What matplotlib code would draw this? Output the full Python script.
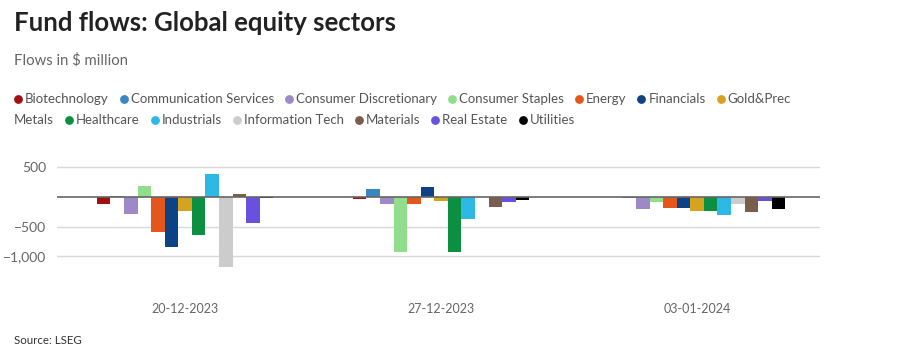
import matplotlib
matplotlib.use("Agg")
import matplotlib.pyplot as plt
from matplotlib.lines import Line2D
import numpy as np

plt.rcParams['font.family'] = ['Lato', 'DejaVu Sans']

dates = ["20-12-2023", "27-12-2023", "03-01-2024"]
sectors = ["Biotechnology", "Communication Services", "Consumer Discretionary",
           "Consumer Staples", "Energy", "Financials", "Gold&Prec Metals",
           "Healthcare", "Industrials", "Information Tech", "Materials",
           "Real Estate", "Utilities"]
colors = ["#a10f0f", "#3a86c0", "#9d89c7", "#90dd8c", "#e4571a", "#0d4385",
          "#d6a320", "#0b8f40", "#2db8e6", "#cccccc", "#7a5e4c", "#6a50de",
          "#000000"]

# flows in $ million, one list per sector (values for the three dates)
biotech = [-120, -28, 0]
comm_services = [10, 128, -15]
cons_disc = [-285, -112, -207]
cons_staples = [185, -930, -90]
energy = [-593, -117, -185]
financials = [-840, 162, -190]
gold_prec = [-235, -73, -235]
healthcare = [-633, -924, -241]
industrials = [386, -370, -297]
info_tech = [-1176, -5, -112]
materials = [50, -174, -246]
real_estate = [-442, -78, -67]
utilities = [-15, -56, -196]

series = [biotech, comm_services, cons_disc, cons_staples, energy, financials,
          gold_prec, healthcare, industrials, info_tech, materials, real_estate,
          utilities]

W, H = 901, 361
fig = plt.figure(figsize=(W / 100, H / 100), dpi=100)
ax = fig.add_axes([57 / W, 1 - 286 / H, (820 - 57) / W, (286 - 161.4) / H])

x = np.arange(len(dates))
bw = 0.053
n = len(series)
for i, (vals, c) in enumerate(zip(series, colors)):
    ax.bar(x + (i - (n - 1) / 2) * bw, vals, width=bw, color=c, zorder=3)

ax.set_xlim(-0.5, 2.48)
ax.set_ylim(-1500, 600)
ax.set_yticks([500, -500, -1000])
ax.set_yticklabels(["500", "\u2212500", "\u22121,000"])
ax.grid(axis='y', color='#d9d9d9', linewidth=1, zorder=0)
ax.axhline(0, color='#666666', linewidth=1.2, zorder=4)
ax.set_xticks(x)
ax.set_xticklabels(dates, fontsize=9)
for s in ax.spines.values():
    s.set_visible(False)
ax.tick_params(axis='both', length=0, labelcolor='#666666')
ax.tick_params(axis='y', labelsize=10, pad=8)
ax.tick_params(axis='x', pad=12)

fig.text(14 / W, 1 - 23 / H, "Fund flows: Global equity sectors", fontsize=18.5,
         fontweight='bold', color='#222222', va='center', ha='left')
fig.text(14 / W, 1 - 60 / H, "Flows in $ million", fontsize=10.7,
         color='#666666', va='center', ha='left')
fig.text(14 / W, 1 - 341 / H, "Source: LSEG", fontsize=8.3,
         color='#333333', va='center', ha='left')

# legend laid out as wrapping text with dot markers
fig.canvas.draw()
renderer = fig.canvas.get_renderer()
xpos, line_y = 11.0, 99.0
max_x = 800
for label, c in zip(sectors, colors):
    words = label.split(" ") if label == "Gold&Prec Metals" else [label]
    first = True
    for w in words:
        t = fig.text(0, 0, w, fontsize=9.5, color='#555555', va='center', ha='left')
        wpx = t.get_window_extent(renderer).width
        need = wpx + (11 if first else 0)
        if xpos + need > max_x:
            xpos = 11.0 if first else 14.0
            line_y += 21
        if first:
            fig.add_artist(Line2D([(xpos + 7) / W], [1 - line_y / H],
                                  transform=fig.transFigure, marker='o',
                                  markersize=5.3, color=c, linestyle=''))
            xpos += 14
        t.set_position((xpos / W, 1 - line_y / H))
        xpos += wpx + 4
        first = False
    xpos += 4

fig.savefig("out.png", dpi=100)
